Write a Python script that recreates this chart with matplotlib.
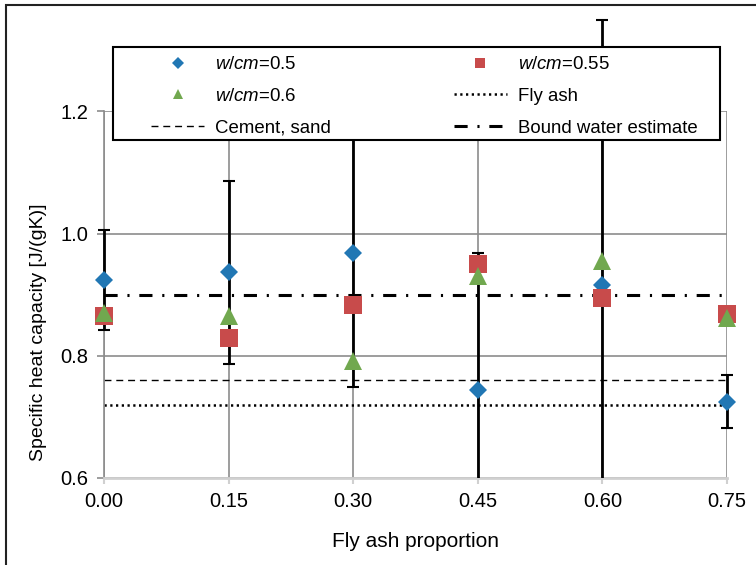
import matplotlib
matplotlib.use("Agg")
import matplotlib.pyplot as plt
from matplotlib.patches import Rectangle

plt.rcParams['font.family'] = ['Liberation Sans', 'DejaVu Sans']
plt.rcParams['mathtext.fontset'] = 'custom'
plt.rcParams['mathtext.it'] = 'Liberation Sans:italic'
plt.rcParams['mathtext.rm'] = 'Liberation Sans'

# data
fly_ash_prop = [0.00, 0.15, 0.30, 0.45, 0.60, 0.75]
wcm_05 = [0.924, 0.937, 0.968, 0.744, 0.916, 0.725]
wcm_055 = [0.865, 0.829, 0.883, 0.950, 0.894, 0.869]
wcm_06 = [0.870, 0.866, 0.791, 0.930, 0.956, 0.862]
err_05 = [0.082, 0.150, 0.219, 0.225, 0.434, 0.043]
fly_ash_cp = 0.72
cement_sand_cp = 0.76
bound_water_cp = 0.90
x_ticks = [0.00, 0.15, 0.30, 0.45, 0.60, 0.75]
x_ticklabels = ['0.00', '0.15', '0.30', '0.45', '0.60', '0.75']
y_ticks = [0.6, 0.8, 1.0, 1.2]
y_ticklabels = ['0.6', '0.8', '1.0', '1.2']

blue = '#2177B4'
red = '#C84B4B'
green = '#71A84F'
grid_col = '#8c8c8c'

dash_cement = (0, (5, 3.5))
dot_fly = (0, (0.9, 1.4))
dashdot_water = (0, (4.3, 3.2, 0.7, 3.2))

fig = plt.figure(figsize=(7.56, 5.65), dpi=100)
ax = fig.add_axes([0.1376, 0.154, 0.824, 0.6487])

ax.set_xlim(0, 0.75)
ax.set_ylim(0.6, 1.2)
ax.set_xticks(x_ticks)
ax.set_xticklabels(x_ticklabels)
ax.set_yticks(y_ticks)
ax.set_yticklabels(y_ticklabels)

ax.grid(True, color=grid_col, linewidth=1.2, zorder=0)
ax.set_axisbelow(True)
for s in ['top', 'right']:
    ax.spines[s].set_visible(False)
ax.spines['left'].set_color(grid_col)
ax.spines['left'].set_linewidth(1.2)
ax.spines['bottom'].set_color('#d0d0d0')
ax.spines['bottom'].set_linewidth(2)
ax.tick_params(axis='x', length=4, width=1.5, color='#d0d0d0', pad=6, labelsize=14.5)
ax.tick_params(axis='y', length=5, width=1.2, color=grid_col, pad=6, labelsize=14.5)

# reference lines
ax.plot([0, 0.75], [cement_sand_cp] * 2, color='black', linewidth=1.0,
        linestyle=dash_cement, zorder=2)
ax.plot([0, 0.75], [fly_ash_cp] * 2, color='black', linewidth=1.8,
        linestyle=dot_fly, zorder=2)
ax.plot([0, 0.75], [bound_water_cp] * 2, color='black', linewidth=2.2,
        linestyle=dashdot_water, zorder=2)

# error bars (not clipped at the top, clipped at the x axis)
eb = ax.errorbar(fly_ash_prop, wcm_05, yerr=err_05, fmt='none', ecolor='black',
                 elinewidth=2, capsize=4.3, capthick=1.5, zorder=3)
clip_rect = Rectangle((-0.05, 0), 1.1, 2, transform=ax.transAxes)
for art in list(eb.lines[1]) + list(eb.lines[2]):
    art.set_clip_path(clip_rect)

ax.plot(fly_ash_prop, wcm_05, 'D', color=blue, markersize=9.5, markeredgewidth=0,
        clip_on=False, zorder=4)
ax.plot(fly_ash_prop, wcm_055, 's', color=red, markersize=12.5, markeredgewidth=0,
        clip_on=False, zorder=4)
ax.plot(fly_ash_prop, wcm_06, '^', color=green, markersize=12.5, markeredgewidth=0,
        clip_on=False, zorder=4)

ax.set_xlabel('Fly ash proportion', fontsize=15, labelpad=15)
ax.set_ylabel('Specific heat capacity [J/(gK)]', fontsize=14)
ax.yaxis.set_label_coords(-0.092, 0.398)

# legend (frame drawn separately)
h = [
    plt.Line2D([], [], linestyle='none', marker='D', color=blue, markersize=5.8, markeredgewidth=0),
    plt.Line2D([], [], linestyle='none', marker='^', color=green, markersize=7.5, markeredgewidth=0),
    plt.Line2D([], [], color='black', linewidth=1.0, linestyle=dash_cement),
    plt.Line2D([], [], linestyle='none', marker='s', color=red, markersize=7.5, markeredgewidth=0),
    plt.Line2D([], [], color='black', linewidth=1.8, linestyle=dot_fly),
    plt.Line2D([], [], color='black', linewidth=2.2, linestyle=dashdot_water),
]
labels = [r'$\mathit{w/cm}$=0.5', r'$\mathit{w/cm}$=0.6', 'Cement, sand',
          r'$\mathit{w/cm}$=0.55', 'Fly ash', 'Bound water estimate']

frame = Rectangle((113 / 756, 1 - 140 / 565), 607 / 756, 93 / 565, transform=fig.transFigure,
                  facecolor='white', edgecolor='black', linewidth=1.5, zorder=5, clip_on=False)
ax.add_patch(frame)
leg = ax.legend(h, labels, ncol=2, loc='upper left', bbox_to_anchor=(151 / 756, 1 - 56 / 565),
                bbox_transform=fig.transFigure, frameon=False, fontsize=13.4, borderpad=0,
                handlelength=2.85, handletextpad=0.6, columnspacing=6.58, labelspacing=0.8,
                borderaxespad=0)
leg.set_zorder(6)

# figure border (top and left visible)
fig.add_artist(Rectangle((6 / 756, -0.5), 2, 1.5 - 4.5 / 565, transform=fig.transFigure,
                         fill=False, edgecolor='#222222', linewidth=1.5))

plt.savefig('out.png', dpi=100)
